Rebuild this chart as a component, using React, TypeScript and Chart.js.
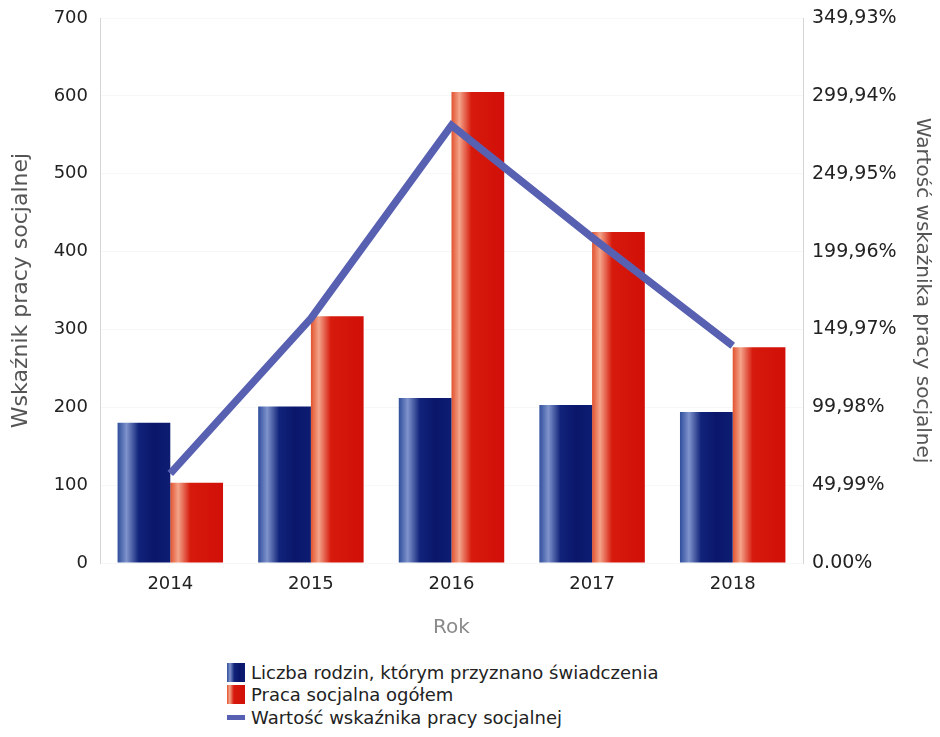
import React, { useEffect, useRef } from "react";
import { Chart, registerables } from "chart.js";

Chart.register(...registerables);

const categories = ["2014", "2015", "2016", "2017", "2018"];
const familiesLabel = "Liczba rodzin, którym przyznano świadczenia";
const familiesValues = [180, 201, 212, 203, 194];
const socialWorkLabel = "Praca socjalna ogółem";
const socialWorkValues = [103, 317, 605, 425, 277];
const indicatorLabel = "Wartość wskaźnika pracy socjalnej";
const indicatorValues = [57.5, 157, 281, 209, 139.5];
const leftTicks = [0, 100, 200, 300, 400, 500, 600, 700];
const rightTickValues = [0, 49.99, 99.98, 149.97, 199.96, 249.95, 299.94, 349.93];
const rightTickLabels = ["0.00%", "49,99%", "99,98%", "149,97%", "199,96%", "249,95%", "299,94%", "349,93%"];
const leftTitle = "Wskaźnik pracy socjalnej";
const rightTitle = "Wartość wskaźnika pracy socjalnej";
const xTitle = "Rok";

const FONT = "'DejaVu Sans', sans-serif";
const CAT_PCT = 0.75;

const blueStops: [number, string][] = [
  [0, "#2f4e9c"],
  [0.17, "#7f93cc"],
  [0.4, "#10237a"],
  [0.7, "#0a166a"],
  [1, "#0d1d72"],
];
const redStops: [number, string][] = [
  [0, "#e2522e"],
  [0.15, "#f3a48a"],
  [0.38, "#d61a0c"],
  [1, "#d10f08"],
];

function barGradient(stops: [number, string][], side: number) {
  return (ctx: any) => {
    const chart = ctx.chart;
    const area = chart.chartArea;
    const xs = chart.scales && chart.scales.x;
    if (!area || !xs || ctx.type !== "data") return stops[stops.length - 1][1];
    const center = xs.getPixelForValue(ctx.dataIndex);
    const w = (xs.width / categories.length) * CAT_PCT / 2;
    const left = side === 0 ? center - w : center;
    const g = chart.ctx.createLinearGradient(left, 0, left + w, 0);
    stops.forEach(([o, c]) => g.addColorStop(o, c));
    return g;
  };
}

function cssGradient(stops: [number, string][]) {
  return "linear-gradient(to right, " + stops.map(([o, c]) => `${c} ${o * 100}%`).join(", ") + ")";
}

export default function App() {
  const canvasRef = useRef<HTMLCanvasElement | null>(null);

  useEffect(() => {
    if (!canvasRef.current) return;
    const chart = new Chart(canvasRef.current, {
      type: "bar",
      data: {
        labels: categories,
        datasets: [
          {
            type: "line",
            label: indicatorLabel,
            data: indicatorValues,
            yAxisID: "y1",
            borderColor: "#5860b2",
            backgroundColor: "#5860b2",
            borderWidth: 7.5,
            pointRadius: 0,
            tension: 0,
            order: 0,
          } as any,
          {
            label: familiesLabel,
            data: familiesValues,
            yAxisID: "y",
            backgroundColor: barGradient(blueStops, 0),
            borderWidth: 0,
            categoryPercentage: CAT_PCT,
            barPercentage: 1,
            order: 1,
          },
          {
            label: socialWorkLabel,
            data: socialWorkValues,
            yAxisID: "y",
            backgroundColor: barGradient(redStops, 1),
            borderWidth: 0,
            categoryPercentage: CAT_PCT,
            barPercentage: 1,
            order: 1,
          },
        ],
      },
      options: {
        responsive: true,
        maintainAspectRatio: false,
        animation: false,
        layout: { padding: 0 },
        plugins: {
          legend: { display: false },
          tooltip: { enabled: false },
        },
        scales: {
          x: {
            offset: true,
            grid: { display: false, drawTicks: false },
            border: { display: false },
            ticks: { color: "#222", font: { family: FONT, size: 18 }, padding: 11 },
            title: {
              display: true,
              text: xTitle,
              color: "#8a8a8a",
              font: { family: FONT, size: 20 },
              padding: { top: 0, bottom: 8 },
            },
            afterFit: (s: any) => { s.height = 85; },
          },
          y: {
            position: "left",
            min: 0,
            max: 700,
            afterBuildTicks: (s: any) => { s.ticks = leftTicks.map((v) => ({ value: v })); },
            grid: { color: "rgba(0,0,0,0.03)", drawTicks: false },
            border: { display: true, color: "#d6d6d6", width: 1 },
            ticks: { color: "#222", font: { family: FONT, size: 18 }, padding: 12 },
            title: {
              display: true,
              text: leftTitle,
              color: "#555",
              font: { family: FONT, size: 22, lineHeight: 1.2 },
              padding: { top: 0, bottom: 0 },
            },
            afterFit: (s: any) => { s.width = 92; s.paddingTop = 10; },
          },
          y1: {
            position: "right",
            min: 0,
            max: 349.93,
            afterBuildTicks: (s: any) => { s.ticks = rightTickValues.map((v) => ({ value: v })); },
            grid: { display: false, drawTicks: false },
            border: { display: true, color: "#d6d6d6", width: 1 },
            ticks: {
              color: "#222",
              font: { family: FONT, size: 19 },
              padding: 9,
              callback: (_v: any, i: number) => rightTickLabels[i],
            },
            title: {
              display: true,
              text: rightTitle,
              color: "#555",
              font: { family: FONT, size: 20, lineHeight: 1 },
              padding: { top: 0, bottom: 0 },
            },
            afterFit: (s: any) => { s.width = 129; s.paddingTop = 10; },
          },
        },
      },
    });
    return () => chart.destroy();
  }, []);

  const legendItems = [
    { label: familiesLabel, kind: "box", bg: cssGradient(blueStops) },
    { label: socialWorkLabel, kind: "box", bg: cssGradient(redStops) },
    { label: indicatorLabel, kind: "line", bg: "#5860b2" },
  ];

  return (
    <div style={{ fontFamily: FONT }}>
      <div style={{ position: "relative", width: 924, height: 640 }}>
        <canvas ref={canvasRef} />
      </div>
      <div style={{ marginTop: 13, marginLeft: 219 }}>
        {legendItems.map((it) => (
          <div key={it.label} style={{ display: "flex", alignItems: "center", height: 22.5 }}>
            <div style={{ width: 18, height: 22.5, display: "flex", alignItems: "center" }}>
              <div
                style={{
                  width: 18,
                  height: it.kind === "box" ? 19 : 5,
                  background: it.bg,
                }}
              />
            </div>
            <span style={{ marginLeft: 6, fontSize: 18, color: "#222", whiteSpace: "nowrap" }}>{it.label}</span>
          </div>
        ))}
      </div>
    </div>
  );
}
